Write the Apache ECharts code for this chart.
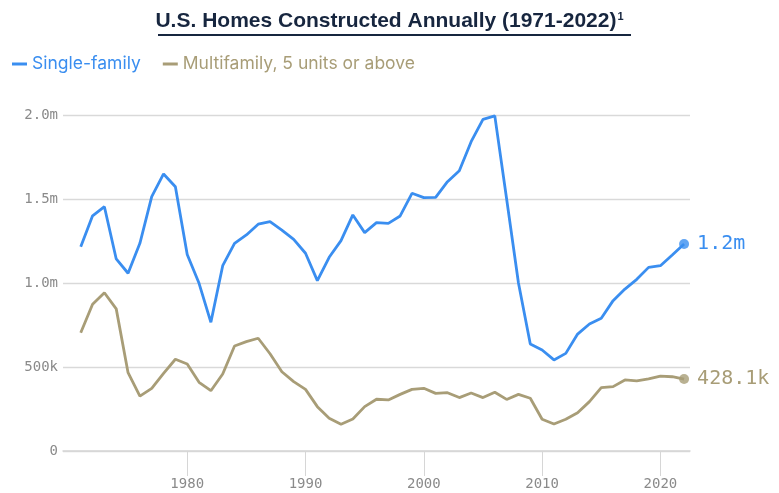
<!DOCTYPE html>
<html>
<head>
<meta charset="utf-8">
<script src="https://cdn.jsdelivr.net/npm/echarts@6/dist/echarts.min.js"></script>
<style>
  html, body { margin: 0; padding: 0; background: #fff; }
  #main { width: 779px; height: 493px; }
</style>
</head>
<body>
<div id="main"></div>
<script>
// data
var years = [];
for (var y = 1971; y <= 2022; y++) years.push(y);

var singleFamily = [
  1216000, 1400000, 1454000, 1143000, 1058000, 1236000, 1514000, 1649000, 1573000, 1170000,
  998000, 766000, 1103000, 1236000, 1286000, 1350000, 1365000, 1315000, 1260000, 1177000,
  1014000, 1153000, 1252000, 1405000, 1300000, 1359000, 1355000, 1399000, 1534000, 1508000,
  1510000, 1603000, 1668000, 1841000, 1974000, 1995000, 1500000, 1000000, 637000, 601000,
  542000, 581000, 696000, 756000, 790000, 895000, 964000, 1022000, 1093000, 1103000,
  1167000, 1232000
];
var multiFamily = [
  704000, 874000, 942000, 846000, 466000, 327000, 373000, 462000, 546000, 518000,
  409000, 359000, 458000, 625000, 651000, 671000, 579000, 472000, 413000, 367000,
  264000, 195000, 159000, 190000, 264000, 308000, 304000, 337000, 367000, 373000,
  343000, 347000, 318000, 345000, 318000, 350000, 307000, 337000, 314000, 189000,
  161000, 189000, 228000, 294000, 377000, 383000, 423000, 417000, 429000, 446000,
  442000, 428100
];
var seriesNames = ['Single-family', 'Multifamily, 5 units or above'];
var seriesColors = ['#3a8ef0', '#a89d77'];
var endLabels = ['1.2m', '428.1k'];
var xTickYears = [1980, 1990, 2000, 2010, 2020];
var yTicks = [0, 500000, 1000000, 1500000, 2000000];
var yTickLabels = ['0', '500k', '1.0m', '1.5m', '2.0m'];

var mono = 'DejaVu Sans Mono';
var myChart = echarts.init(document.getElementById('main'));

function pairs(vals) {
  return vals.map(function (v, i) { return [years[i], v]; });
}

var lineSeries = [singleFamily, multiFamily].map(function (vals, i) {
  return {
    name: seriesNames[i],
    type: 'line',
    data: pairs(vals),
    showSymbol: false,
    color: seriesColors[i],
    lineStyle: { width: 2.8, color: seriesColors[i] },
    endLabel: {
      show: true,
      formatter: endLabels[i],
      color: seriesColors[i],
      fontFamily: mono,
      fontSize: 20,
      distance: 13
    },
    z: 3
  };
});
var dotSeries = [singleFamily, multiFamily].map(function (vals, i) {
  return {
    name: seriesNames[i] + ' end',
    type: 'scatter',
    data: [[years[years.length - 1], vals[vals.length - 1]]],
    symbolSize: 10,
    itemStyle: { color: seriesColors[i] },
    z: 4
  };
});

var option = {
  animation: false,
  title: {
    text: '{t|U.S. Homes Constructed Annually (1971-2022)}{s|1}',
    left: 'center',
    top: 11,
    padding: 0,
    textStyle: {
      rich: {
        t: { fontFamily: 'Liberation Sans', fontWeight: 'bold', fontSize: 21, color: '#17263f' },
        s: { fontFamily: 'Liberation Sans', fontWeight: 'bold', fontSize: 11, color: '#17263f', verticalAlign: 'top', padding: [0, 0, 10, 1] }
      }
    }
  },
  graphic: [{
    type: 'line',
    shape: { x1: 158, y1: 35, x2: 631, y2: 35 },
    style: { stroke: '#17263f', lineWidth: 1.8 }
  }],
  legend: {
    data: seriesNames.map(function (n, i) {
      return { name: n, textStyle: { color: seriesColors[i] } };
    }),
    left: 12,
    top: 55,
    padding: 0,
    icon: 'rect',
    itemWidth: 15,
    itemHeight: 3,
    itemGap: 22,
    textStyle: { fontFamily: 'Inter', fontSize: 17.5 }
  },
  grid: { left: 63, right: 89, top: 115, bottom: 42 },
  xAxis: {
    type: 'value',
    min: 1969.5,
    max: 2022.5,
    axisLine: { show: true, lineStyle: { color: '#d6d6d6', width: 1.5 } },
    axisTick: { show: true, customValues: xTickYears, length: 25, lineStyle: { color: '#d6d6d6', width: 1 } },
    axisLabel: {
      customValues: xTickYears,
      margin: 26,
      color: '#8a8a8a',
      fontFamily: mono,
      fontSize: 14,
      formatter: function (v) { return String(v); }
    },
    splitLine: { show: false }
  },
  yAxis: {
    type: 'value',
    min: 0,
    max: 2000000,
    interval: 500000,
    axisLine: { show: false },
    axisTick: { show: false },
    axisLabel: {
      margin: 5,
      color: '#8a8a8a',
      fontFamily: mono,
      fontSize: 14,
      formatter: function (v) {
        var k = yTicks.indexOf(v);
        return k >= 0 ? yTickLabels[k] : '';
      }
    },
    splitLine: { lineStyle: { color: '#d9d9d9', width: 1.3 } }
  },
  series: lineSeries.concat(dotSeries)
};
myChart.setOption(option);
</script>
</body>
</html>
